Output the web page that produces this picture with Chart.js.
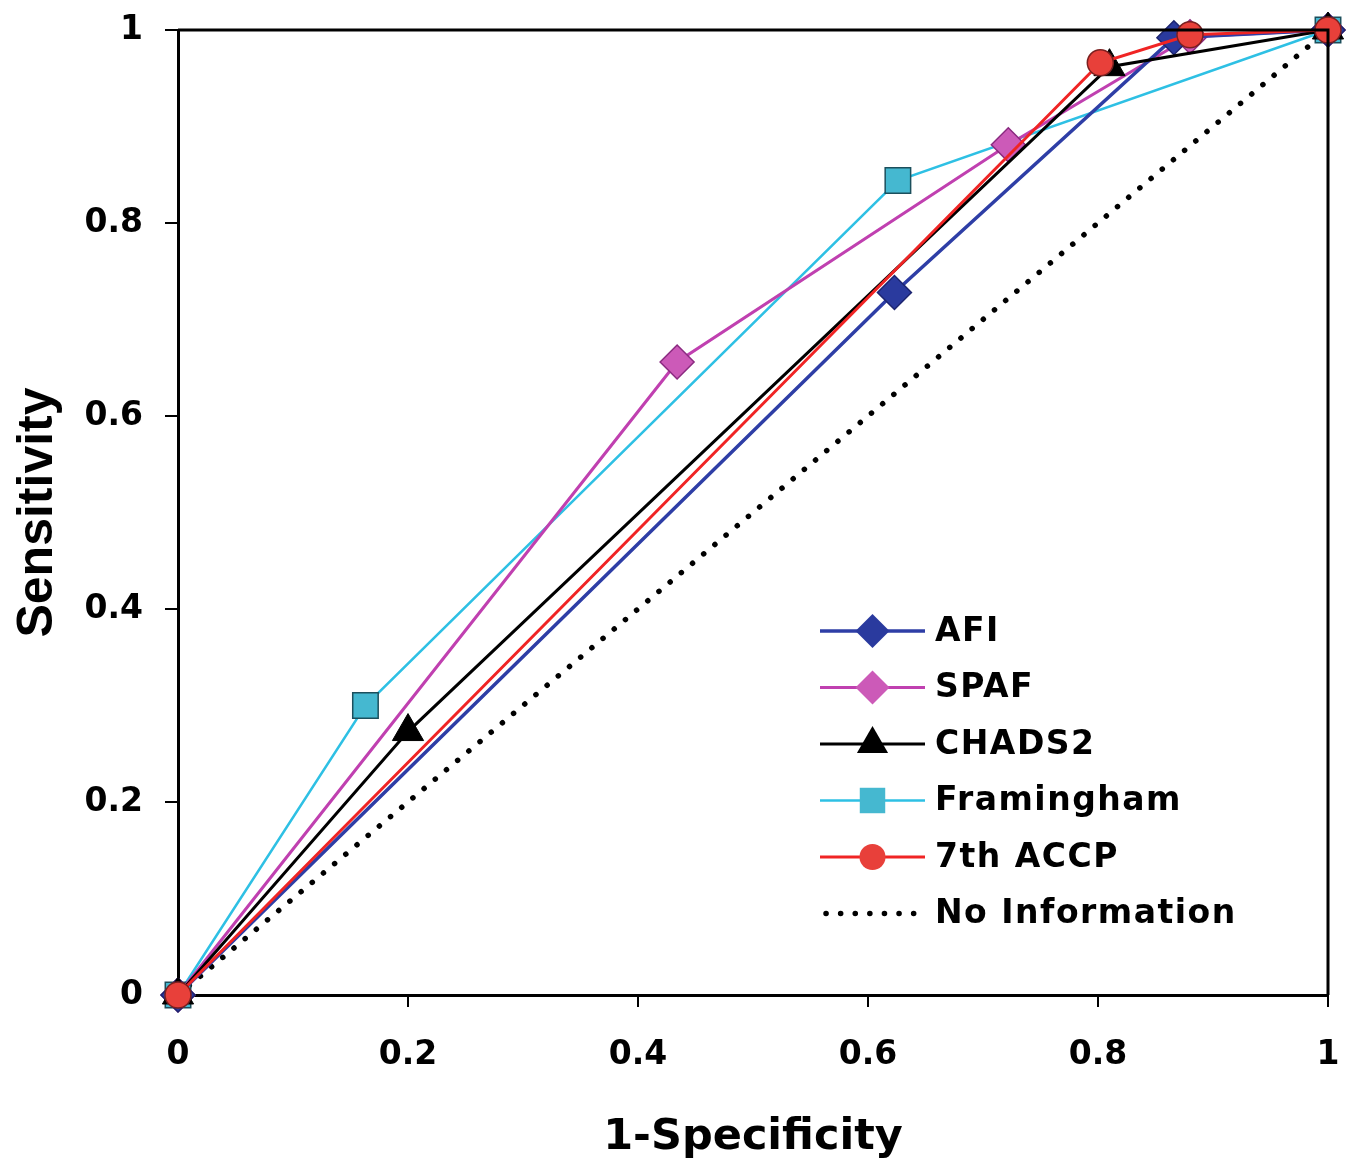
<!DOCTYPE html>
<html>
<head>
<meta charset="utf-8">
<script src="https://cdn.jsdelivr.net/npm/chart.js@4.4.1/dist/chart.umd.min.js"></script>
<style>
	html, body { margin: 0; padding: 0; background: #ffffff; }
	#wrap { width: 1357px; height: 1169px; }
</style>
</head>
<body>
<div id="wrap"><canvas id="rocChart" width="1357" height="1169"></canvas></div>
<script>
const seriesNames = ["AFI", "SPAF", "CHADS2", "Framingham", "7th ACCP", "No Information"];

const afiX = [0, 0.623, 0.866, 1];
const afiY = [0, 0.728, 0.992, 1];

const spafX = [0, 0.434, 0.722, 0.88, 1];
const spafY = [0, 0.656, 0.881, 0.993, 1];

const chadsX = [0, 0.2, 0.81, 1];
const chadsY = [0, 0.273, 0.962, 1];

const framX = [0, 0.163, 0.626, 1];
const framY = [0, 0.3, 0.844, 1];

const accpX = [0, 0.802, 0.88, 1];
const accpY = [0, 0.966, 0.995, 1];

const noInfoX = [0, 1];
const noInfoY = [0, 1];

const tickValues = [0, 0.2, 0.4, 0.6, 0.8, 1];

function toPoints(xs, ys) {
	return xs.map(function (x, i) {
		return { x: x, y: ys[i] };
	});
}

const WIDE_FONT = "'DejaVu Sans', Verdana, sans-serif";
const FONT = "'Liberation Sans', Arial, sans-serif";

const frameAndLegend = {
	id: "frameAndLegend",
	afterDatasetsDraw: function (chart) {
		const ctx = chart.ctx;
		const area = chart.chartArea;
		ctx.save();
		ctx.strokeStyle = "#000";
		ctx.lineWidth = 3;
		ctx.beginPath();
		ctx.moveTo(area.left, area.top);
		ctx.lineTo(area.right, area.top);
		ctx.lineTo(area.right, area.bottom);
		ctx.stroke();

		// legend, same order as the datasets
		const x0 = 820;
		const x1 = 925;
		const textX = 935;
		const firstY = 631;
		const step = 56.5;
		chart.data.datasets.forEach(function (ds, i) {
			const y = firstY + i * step;
			ctx.save();
			ctx.strokeStyle = ds.borderColor;
			ctx.lineWidth = ds.borderWidth;
			ctx.lineCap = ds.borderCapStyle || "butt";
			ctx.setLineDash(ds.borderDash || []);
			ctx.beginPath();
			if (ds.borderDash) {
				ctx.moveTo(x0 + 6, y);
				ctx.lineTo(x1 - 6, y);
			} else {
				ctx.moveTo(x0, y);
				ctx.lineTo(x1, y);
			}
			ctx.stroke();
			ctx.restore();
			if (ds.pointRadius > 0) {
				ctx.save();
				ctx.fillStyle = ds.pointBackgroundColor;
				ctx.strokeStyle = ds.pointBorderColor;
				ctx.lineWidth = ds.pointBorderWidth;
				Chart.helpers.drawPoint(ctx, {
					pointStyle: ds.pointStyle,
					radius: ds.pointRadius,
					rotation: 0
				}, (x0 + x1) / 2, y);
				ctx.restore();
			}
			ctx.save();
			ctx.font = "bold 33px " + WIDE_FONT;
			ctx.letterSpacing = "1.5px";
			ctx.textBaseline = "middle";
			ctx.textAlign = "left";
			ctx.fillStyle = "#000";
			ctx.fillText(ds.label, textX, y + 1);
			ctx.restore();
		});
		ctx.restore();
	}
};

function tickText(value) {
	return String(Math.round(value * 10) / 10);
}

new Chart(document.getElementById("rocChart"), {
	type: "scatter",
	data: {
		datasets: [
			{
				label: seriesNames[0],
				data: toPoints(afiX, afiY),
				order: 2,
				showLine: true,
				borderColor: "#2e3ea6",
				borderWidth: 3.5,
				pointStyle: "rectRot",
				pointRadius: 17,
				pointBackgroundColor: "#2a3a9e",
				pointBorderColor: "#1c2470",
				pointBorderWidth: 1.5
			},
			{
				label: seriesNames[1],
				data: toPoints(spafX, spafY),
				order: 3,
				showLine: true,
				borderColor: "#c040b0",
				borderWidth: 3,
				pointStyle: "rectRot",
				pointRadius: 17,
				pointBackgroundColor: "#cc5ab8",
				pointBorderColor: "#8a2a80",
				pointBorderWidth: 1.5
			},
			{
				label: seriesNames[2],
				data: toPoints(chadsX, chadsY),
				order: 1,
				showLine: true,
				borderColor: "#000000",
				borderWidth: 3,
				pointStyle: "triangle",
				pointRadius: 18,
				pointBackgroundColor: "#000000",
				pointBorderColor: "#000000",
				pointBorderWidth: 1
			},
			{
				label: seriesNames[3],
				data: toPoints(framX, framY),
				order: 4,
				showLine: true,
				borderColor: "#2ec0e4",
				borderWidth: 2.5,
				pointStyle: "rect",
				pointRadius: 18,
				pointBackgroundColor: "#45b8d0",
				pointBorderColor: "#1c4f5c",
				pointBorderWidth: 1.5
			},
			{
				label: seriesNames[4],
				data: toPoints(accpX, accpY),
				order: 0,
				showLine: true,
				borderColor: "#f02424",
				borderWidth: 3,
				pointStyle: "circle",
				pointRadius: 13,
				pointBackgroundColor: "#e8403a",
				pointBorderColor: "#7a2020",
				pointBorderWidth: 1.5
			},
			{
				label: seriesNames[5],
				data: toPoints(noInfoX, noInfoY),
				order: 5,
				showLine: true,
				borderColor: "#000000",
				borderWidth: 5.5,
				borderDash: [0.1, 14.5],
				borderCapStyle: "round",
				pointRadius: 0
			}
		]
	},
	options: {
		responsive: false,
		animation: false,
		clip: false,
		layout: { padding: { top: 30, right: 29, left: 0, bottom: 0 } },
		plugins: {
			legend: { display: false },
			tooltip: { enabled: false }
		},
		scales: {
			x: {
				type: "linear",
				min: 0,
				max: 1,
				afterFit: function (scale) {
					scale.height = 174;
					scale.paddingLeft = 0;
					scale.paddingRight = 0;
				},
				afterBuildTicks: function (scale) {
					scale.ticks = tickValues.map(function (v) { return { value: v }; });
				},
				border: { color: "#000", width: 3 },
				grid: { drawOnChartArea: false, drawTicks: true, tickLength: 12, color: "#000", lineWidth: 2 },
				ticks: {
					color: "#000",
					font: { family: WIDE_FONT, size: 33, weight: "bold" },
					padding: 29,
					maxRotation: 0,
					callback: tickText
				},
				title: {
					display: true,
					text: "1-Specificity",
					color: "#000",
					font: { family: WIDE_FONT, size: 43, weight: "bold" },
					padding: { top: 0, bottom: 5 }
				}
			},
			y: {
				type: "linear",
				min: 0,
				max: 1,
				afterFit: function (scale) {
					scale.width = 178;
					scale.paddingTop = 0;
					scale.paddingBottom = 0;
				},
				afterBuildTicks: function (scale) {
					scale.ticks = tickValues.map(function (v) { return { value: v }; });
				},
				border: { color: "#000", width: 3 },
				grid: { drawOnChartArea: false, drawTicks: true, tickLength: 13, color: "#000", lineWidth: 2 },
				ticks: {
					color: "#000",
					font: { family: WIDE_FONT, size: 33, weight: "bold" },
					padding: 22,
					callback: tickText
				},
				title: {
					display: true,
					text: "Sensitivity",
					color: "#000",
					font: { family: FONT, size: 50, weight: "bold" },
					padding: { top: 8, bottom: 0 }
				}
			}
		}
	},
	plugins: [frameAndLegend]
});
</script>
</body>
</html>
